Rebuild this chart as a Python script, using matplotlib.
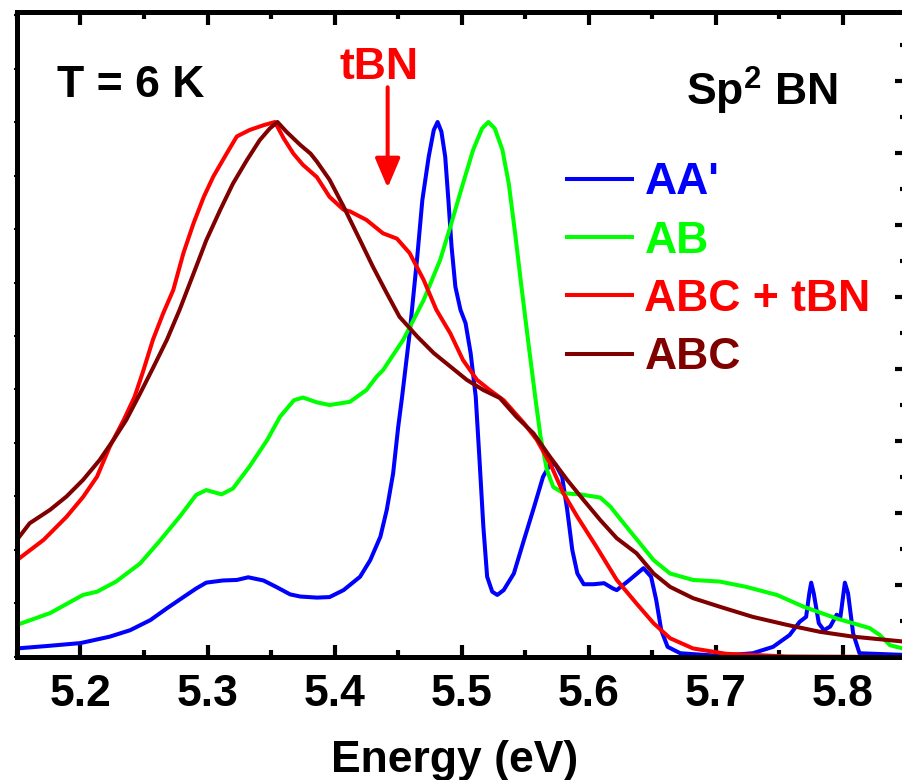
import matplotlib
matplotlib.use("Agg")
import matplotlib.pyplot as plt
from matplotlib.ticker import MultipleLocator, NullFormatter

plt.rcParams['font.family'] = ['Liberation Sans', 'DejaVu Sans']
plt.rcParams['font.weight'] = 'bold'
plt.rcParams['mathtext.fontset'] = 'custom'
plt.rcParams['mathtext.rm'] = 'Liberation Sans:bold'
plt.rcParams['mathtext.bf'] = 'Liberation Sans:bold'
plt.rcParams['mathtext.default'] = 'bf'

# intensity normalised to the peak
e_aa = [5.150, 5.176, 5.200, 5.223, 5.239, 5.255, 5.268, 5.281, 5.291, 5.299,
        5.312, 5.323, 5.332, 5.344, 5.354, 5.365, 5.373, 5.386, 5.396, 5.407,
        5.420, 5.428, 5.436, 5.441, 5.446, 5.450, 5.453, 5.459, 5.465, 5.469,
        5.474, 5.478, 5.481, 5.484, 5.487, 5.4895, 5.492, 5.495, 5.499, 5.503,
        5.507, 5.511, 5.514, 5.517, 5.520, 5.524, 5.528, 5.533, 5.541, 5.549,
        5.557, 5.564, 5.570, 5.574, 5.579, 5.583, 5.587, 5.591, 5.596, 5.604,
        5.612, 5.619, 5.622, 5.632, 5.643, 5.649, 5.653, 5.657, 5.662, 5.672,
        5.703, 5.729, 5.745, 5.758, 5.766, 5.771, 5.7735, 5.775, 5.777, 5.781,
        5.785, 5.790, 5.795, 5.798, 5.8015, 5.804, 5.808, 5.813, 5.847]
i_aa = [0.016, 0.021, 0.026, 0.038, 0.050, 0.069, 0.091, 0.112, 0.128, 0.139,
        0.143, 0.144, 0.149, 0.143, 0.131, 0.117, 0.113, 0.111, 0.112, 0.125,
        0.150, 0.181, 0.225, 0.275, 0.343, 0.430, 0.485, 0.605, 0.748, 0.854,
        0.935, 0.985, 1.000, 0.982, 0.935, 0.854, 0.767, 0.692, 0.649, 0.624,
        0.568, 0.487, 0.368, 0.244, 0.150, 0.122, 0.116, 0.125, 0.156, 0.219,
        0.281, 0.337, 0.362, 0.359, 0.337, 0.275, 0.200, 0.156, 0.136, 0.136,
        0.138, 0.128, 0.125, 0.144, 0.166, 0.150, 0.107, 0.050, 0.019, 0.007,
        0.002, 0.007, 0.019, 0.041, 0.066, 0.075, 0.119, 0.139, 0.119, 0.063,
        0.050, 0.057, 0.079, 0.075, 0.139, 0.119, 0.044, 0.007, 0.004]

e_ab = [5.150, 5.176, 5.202, 5.213, 5.228, 5.247, 5.262, 5.278, 5.291, 5.299,
        5.311, 5.320, 5.333, 5.347, 5.357, 5.368, 5.375, 5.386, 5.396, 5.412,
        5.425, 5.433, 5.438, 5.454, 5.470, 5.483, 5.491, 5.501, 5.509, 5.516,
        5.521, 5.526, 5.532, 5.537, 5.542, 5.547, 5.5525, 5.558, 5.562, 5.567,
        5.572, 5.580, 5.593, 5.609, 5.617, 5.623, 5.638, 5.651, 5.664, 5.682,
        5.703, 5.724, 5.748, 5.769, 5.795, 5.821, 5.829, 5.837, 5.847]
i_ab = [0.060, 0.082, 0.116, 0.122, 0.141, 0.175, 0.216, 0.262, 0.303, 0.312,
        0.304, 0.315, 0.356, 0.406, 0.449, 0.480, 0.485, 0.476, 0.471, 0.477,
        0.499, 0.524, 0.536, 0.593, 0.667, 0.742, 0.804, 0.885, 0.948, 0.988,
        1.000, 0.988, 0.948, 0.885, 0.792, 0.692, 0.586, 0.483, 0.412, 0.350,
        0.318, 0.306, 0.304, 0.298, 0.281, 0.263, 0.219, 0.181, 0.156, 0.144,
        0.141, 0.131, 0.116, 0.094, 0.072, 0.054, 0.041, 0.022, 0.016]

e_abct = [5.150, 5.171, 5.189, 5.202, 5.213, 5.223, 5.234, 5.2425, 5.249, 5.257,
          5.265, 5.273, 5.281, 5.289, 5.297, 5.3045, 5.315, 5.323, 5.333, 5.344,
          5.353, 5.360, 5.3675, 5.375, 5.386, 5.396, 5.407, 5.412, 5.425, 5.438,
          5.449, 5.459, 5.470, 5.480, 5.491, 5.501, 5.512, 5.522, 5.533, 5.549,
          5.559, 5.5695, 5.580, 5.591, 5.606, 5.622, 5.6375, 5.651, 5.664, 5.682,
          5.708, 5.756, 5.847]
i_abct = [0.181, 0.219, 0.262, 0.299, 0.337, 0.393, 0.443, 0.486, 0.532, 0.593,
          0.642, 0.686, 0.755, 0.811, 0.860, 0.898, 0.941, 0.973, 0.985, 0.994,
          1.000, 0.969, 0.941, 0.920, 0.897, 0.860, 0.836, 0.833, 0.817, 0.792,
          0.782, 0.755, 0.705, 0.649, 0.605, 0.555, 0.518, 0.499, 0.480, 0.437,
          0.406, 0.362, 0.306, 0.262, 0.206, 0.144, 0.100, 0.063, 0.035, 0.016,
          0.006, 0.001, 0.000]

e_abc = [5.150, 5.160, 5.176, 5.189, 5.202, 5.215, 5.226, 5.236, 5.247, 5.257,
         5.268, 5.278, 5.289, 5.299, 5.310, 5.320, 5.331, 5.341, 5.349, 5.355,
         5.362, 5.373, 5.381, 5.386, 5.396, 5.407, 5.420, 5.430, 5.441, 5.451,
         5.465, 5.478, 5.491, 5.504, 5.517, 5.530, 5.543, 5.5565, 5.5695, 5.583,
         5.596, 5.609, 5.622, 5.6375, 5.651, 5.664, 5.682, 5.703, 5.729, 5.756,
         5.782, 5.808, 5.847]
i_abc = [0.219, 0.250, 0.275, 0.300, 0.331, 0.368, 0.406, 0.443, 0.493, 0.540,
         0.593, 0.649, 0.717, 0.779, 0.836, 0.885, 0.929, 0.966, 0.988, 1.000,
         0.982, 0.957, 0.941, 0.926, 0.892, 0.842, 0.779, 0.730, 0.680, 0.636,
         0.599, 0.568, 0.543, 0.518, 0.499, 0.484, 0.449, 0.418, 0.374, 0.331,
         0.293, 0.256, 0.222, 0.194, 0.156, 0.131, 0.110, 0.094, 0.075, 0.060,
         0.047, 0.038, 0.029]

labels = ["AA'", "AB", "ABC + tBN", "ABC"]
colors = ['#0000ff', '#00ff00', '#ff0000', '#800000']

fig = plt.figure(figsize=(9.02, 7.8), dpi=100)
ax = fig.add_axes([0.0188, 0.1577, 0.9862, 0.8269])

series = [(e_aa, i_aa), (e_ab, i_ab), (e_abct, i_abct), (e_abc, i_abc)]
for (e, i), lab, c in zip(series, labels, colors):
    ax.plot(e, i, color=c, lw=2.9, label=lab)

ax.set_xlim(5.15, 5.85)
ax.set_ylim(0, 1.2056)

for s in ax.spines.values():
    s.set_linewidth(3.6)

# x ticks in on bottom and top
ax.xaxis.set_major_locator(MultipleLocator(0.1))
ax.xaxis.set_minor_locator(MultipleLocator(0.05))
ax.tick_params(axis='x', which='both', direction='in', top=True, width=3, pad=12, labelsize=32)
ax.tick_params(axis='x', which='major', length=9)
ax.tick_params(axis='x', which='minor', length=5)

# left: short outward ticks, no labels
ax.yaxis.set_major_locator(MultipleLocator(0.1))
ax.yaxis.set_major_formatter(NullFormatter())
ax.tick_params(axis='y', which='major', direction='out', length=2, width=1.5)

# right side ticks
ax2 = ax.twinx()
ax2.set_ylim(ax.get_ylim())
ax2.yaxis.set_major_locator(MultipleLocator(0.1346))
ax2.yaxis.set_minor_locator(MultipleLocator(0.0673))
ax2.yaxis.set_major_formatter(NullFormatter())
ax2.tick_params(axis='y', which='both', direction='in', width=3)
ax2.tick_params(axis='y', which='major', length=9)
ax2.tick_params(axis='y', which='minor', length=5)
for s in ax2.spines.values():
    s.set_linewidth(3.6)

ax.set_xlabel('Energy (eV)', fontsize=32, fontweight='bold')
ax.xaxis.label.set_va('baseline')
ax.xaxis.set_label_coords(0.4924, -0.178)

ax.text(0.045, 0.868, 'T = 6 K', transform=ax.transAxes, fontsize=32,
        fontweight='bold', ha='left', va='baseline')
ax.text(0.923, 0.855, 'Sp$^2$ BN', transform=ax.transAxes, fontsize=32,
        fontweight='bold', ha='right', va='baseline')

ax.text(5.435, 1.080, 'tBN', color='red', fontsize=32, fontweight='bold',
        ha='center', va='baseline')
ax.annotate('', xy=(5.4417, 0.877), xytext=(5.4417, 1.065),
            arrowprops=dict(arrowstyle='-|>,head_length=0.4,head_width=0.17',
                            mutation_scale=45, lw=2.9, color='red',
                            shrinkA=0, shrinkB=0))

leg = ax.legend(loc='upper left', bbox_to_anchor=(0.618, 0.767), frameon=False,
                fontsize=32, handlelength=1.48, handletextpad=0.27,
                labelspacing=0.39, borderpad=0, borderaxespad=0)
for t, c in zip(leg.get_texts(), colors):
    t.set_color(c)
    t.set_fontweight('bold')

fig.savefig('out.png', dpi=100)
